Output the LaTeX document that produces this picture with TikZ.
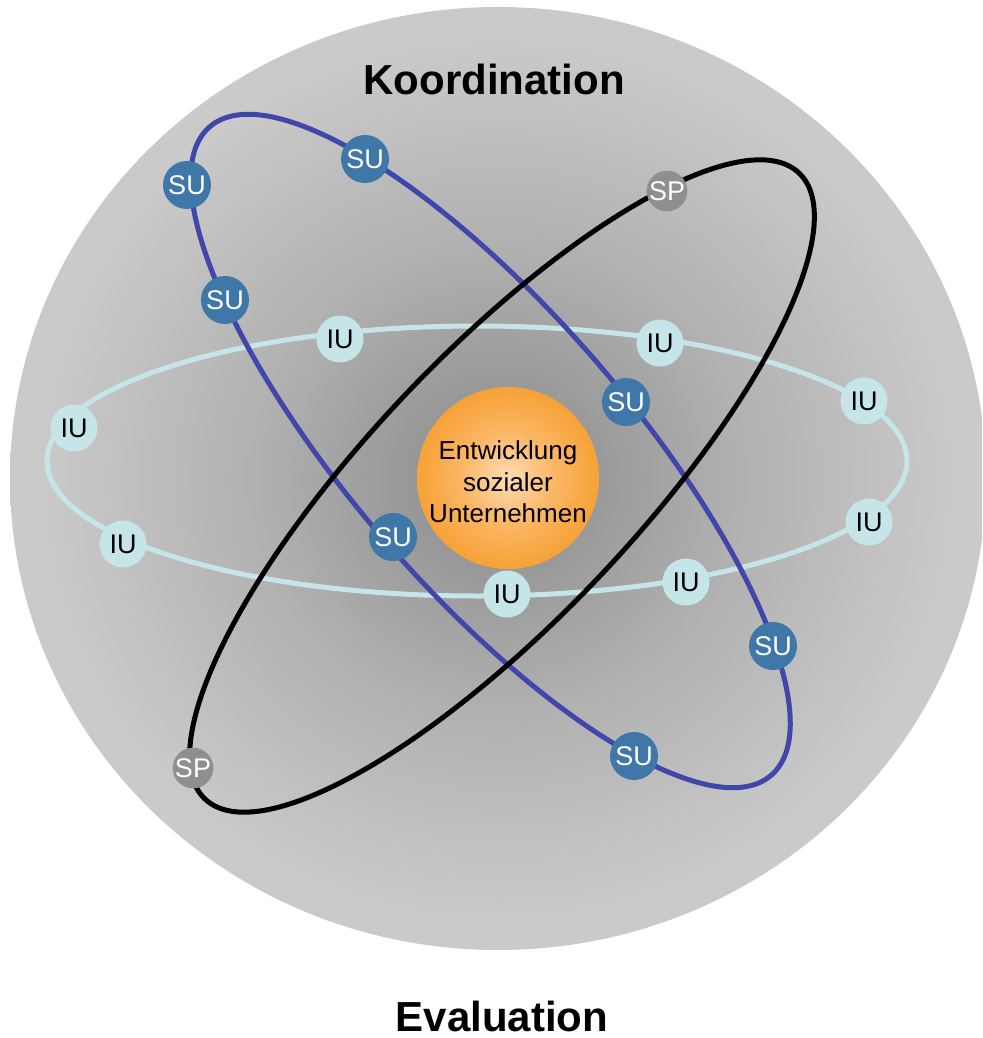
\documentclass[tikz,border=0pt]{standalone}
\usepackage{fontspec}
\setmainfont{Liberation Sans}
\definecolor{bgin}{RGB}{136,136,136}
\definecolor{bgmidA}{RGB}{153,153,153}
\definecolor{bgmidB}{RGB}{177,177,177}
\definecolor{bgout}{RGB}{202,202,202}
\definecolor{orin}{RGB}{253,220,180}
\definecolor{ormid}{RGB}{251,182,100}
\definecolor{orout}{RGB}{247,163,58}
\definecolor{sufill}{RGB}{62,119,168}
\definecolor{iufill}{RGB}{197,229,232}
\definecolor{spfill}{RGB}{143,143,143}
\definecolor{blueorbit}{RGB}{64,70,170}
\pgfdeclareradialshading{bgshade}{\pgfpoint{0bp}{0bp}}{color(0bp)=(bgin); color(5bp)=(bgmidA); color(12.5bp)=(bgmidB); color(23.5bp)=(bgout); color(50bp)=(bgout)}
\pgfdeclareradialshading{orshade}{\pgfpoint{0bp}{0bp}}{color(0bp)=(orin); color(13bp)=(ormid); color(24bp)=(orout); color(50bp)=(orout)}
\begin{document}
\begin{tikzpicture}[x=1pt,y=-1pt,
  orbit/.style={line width=5pt},
  su/.style={circle, fill=sufill, minimum size=48pt, inner sep=0pt, text=white, font=\fontsize{27}{27}\selectfont},
  iu/.style={circle, fill=iufill, minimum size=47pt, inner sep=0pt, text=black, font=\fontsize{27}{27}\selectfont},
  sp/.style={circle, fill=spfill, minimum size=35pt, inner sep=0pt, text=white, font=\fontsize{27}{27}\selectfont},
  title/.style={anchor=base, inner sep=0pt, font=\fontsize{42}{42}\selectfont\bfseries}]
\useasboundingbox (0,0) rectangle (982,1038);
\fill[white] (0,0) rectangle (982,1038);
\begin{scope}
\clip (0,0) rectangle (982,1038);
\shade[shading=bgshade] (498,478.5) ellipse [x radius=488pt, y radius=471.5pt];
\end{scope}
% centre
\shade[shading=orshade] (508,478) circle [radius=91pt];
\node[align=center, font=\fontsize{26}{31.5}\selectfont] (core) at (508,482) {Entwicklung\\sozialer\\Unternehmen};
% titles
\node[title] (koord) at (494,95) {Koordination};
\node[title] (eval) at (502,1031) {Evaluation};
% orbits
\draw[orbit, draw=iufill] (477,461) ellipse [x radius=430pt, y radius=135pt];
\draw[orbit, draw=blueorbit, rotate around={-49.1:(490.5,451)}] (490.5,451) ellipse [x radius=428.9pt, y radius=138.5pt];
\draw[orbit, draw=black, rotate around={46.5:(502,486)}] (502,486) ellipse [x radius=431.5pt, y radius=133pt];
% IU nodes
\node[iu] (iu1) at (340,339) {IU};
\node[iu] (iu2) at (660,343) {IU};
\node[iu] (iu3) at (864,401) {IU};
\node[iu] (iu4) at (74,428) {IU};
\node[iu] (iu5) at (123,544) {IU};
\node[iu] (iu6) at (507,594) {IU};
\node[iu] (iu7) at (686,582) {IU};
\node[iu] (iu8) at (869,522) {IU};
% SU nodes
\node[su] (su1) at (187,185) {SU};
\node[su] (su2) at (225,300) {SU};
\node[su] (su3) at (365,159) {SU};
\node[su] (su4) at (626,402) {SU};
\node[su] (su5) at (393,537) {SU};
\node[su] (su6) at (773,646) {SU};
\node[su] (su7) at (634,756) {SU};
% SP nodes
\node[sp] (sp1) at (667,191) {SP};
\node[sp] (sp2) at (193,768) {SP};
\end{tikzpicture}
\end{document}
